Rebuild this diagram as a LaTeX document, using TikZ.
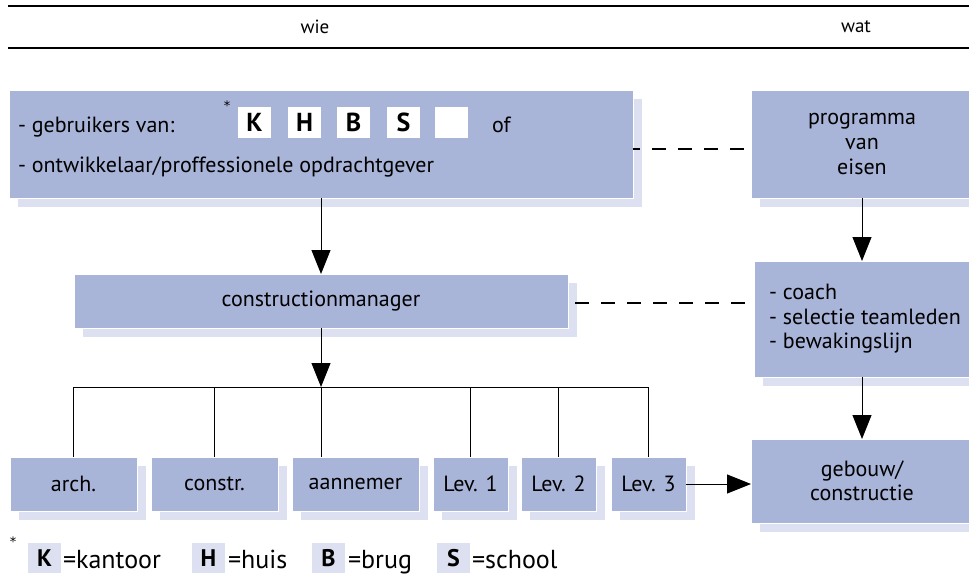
\documentclass[tikz,border=0pt]{standalone}
\usepackage{fontspec}
\setmainfont{PT Sans}
\newfontfamily\starfont{DejaVu Sans}
\usetikzlibrary{arrows.meta,shadows,calc}
\definecolor{boxfill}{HTML}{A8B4D8}
\definecolor{shadowfill}{HTML}{DDE0F0}
\begin{document}
\begin{tikzpicture}[x=1pt,y=-1pt,
  every node/.style={font=\fontsize{22}{24.5}\selectfont, inner sep=0pt, outer sep=0pt},
  head/.style={font=\fontsize{19}{24}\selectfont},
  box/.style={draw=white, line width=0.8pt, fill=boxfill,
    general shadow={fill=shadowfill, shadow xshift=9pt, shadow yshift=-9pt}},
  letterbox/.style={fill=white, minimum width=33pt, minimum height=31pt, font=\fontsize{26}{27}\selectfont\bfseries},
  legendbox/.style={fill=shadowfill, minimum width=33pt, minimum height=30pt, font=\fontsize{24}{25}\selectfont\bfseries},
  legendtext/.style={font=\fontsize{26}{28}\selectfont},
  star/.style={font=\starfont\fontsize{13}{13}\selectfont},
  arr/.style={-{Triangle[length=24pt,width=19pt]}, line width=1pt},
  conn/.style={line width=1pt},
  dashline/.style={line width=1.2pt, dash pattern=on 14pt off 12pt},
  rule/.style={line width=1.8pt}]
\useasboundingbox (0,0) rectangle (969,575);

% header
\draw[rule] (8,6) -- (969,6);
\draw[rule] (8,48) -- (969,48);
\node[head] (wie) at (315,27) {wie};
\node[head] (wat) at (856,27) {wat};

% top boxes
\node[box, minimum width=624pt, minimum height=108pt] (A) at (321,144) {};
\node[anchor=base west] (gebr) at (18,132) {- gebruikers van:};
\node[anchor=base west] (ontw) at (18,172) {- ontwikkelaar/proffessionele opdrachtgever};
\node[star, anchor=base] (st1) at (227,111) {*};
\node[letterbox] (lk) at (254.5,122.5) {K};
\node[letterbox] (lh) at (304.5,122.5) {H};
\node[letterbox] (lb) at (353.5,122.5) {B};
\node[letterbox] (ls) at (403.5,122.5) {S};
\node[letterbox] (lx) at (451.5,122.5) {};
\node[anchor=base west] (of) at (492,132) {of};

\node[box, minimum width=222pt, minimum height=108pt, align=center] (B) at (862,144) {programma\\van\\eisen};

% middle
\node[box, minimum width=494pt, minimum height=54pt] (cm) at (321,301) {constructionmanager};
\node[box, minimum width=222pt, minimum height=116pt, align=left] (coach) at (865,319) {- coach\\- selectie teamleden\\- bewakingslijn};

% bottom row
\node[box, minimum width=127pt, minimum height=54pt] (arch) at (73.5,484) {arch.};
\node[box, minimum width=127pt, minimum height=54pt] (constr) at (214.5,484) {constr.};
\node[box, minimum width=127pt, minimum height=54pt] (aann) at (355.5,484) {aannemer};
\node[box, minimum width=75pt, minimum height=54pt] (lev1) at (470.5,484) {Lev. 1};
\node[box, minimum width=75pt, minimum height=54pt] (lev2) at (558.5,484) {Lev. 2};
\node[box, minimum width=75pt, minimum height=54pt] (lev3) at (648.5,484) {Lev. 3};
\node[box, minimum width=222pt, minimum height=84pt, align=center] (geb) at (862,481) {gebouw/\\constructie};

% connectors
\coordinate (bus) at (321,387);
\draw[arr] (A) -- (cm);
\draw[arr] (cm) -- (bus);
\draw[conn] (arch.north) -- (arch.north |- bus) -- (lev3.north |- bus) -- (lev3.north);
\draw[conn] (constr.north) -- (constr.north |- bus);
\draw[conn] (bus) -- (bus |- aann.north);
\draw[conn] (lev1.north) -- (lev1.north |- bus);
\draw[conn] (lev2.north) -- (lev2.north |- bus);
\draw[arr] (B) -- (B |- coach.north);
\draw[arr] (B |- coach.south) -- (geb);
\draw[arr] (lev3.east) -- (lev3.east -| geb.west);
\draw[dashline, dash phase=7pt] ($(A.east)+(0,5)$) -- ($(B.west)+(0,5)$);
\draw[dashline, dash phase=19pt] ($(cm.east)+(0,2)$) -- ($(coach.west |- cm.east)+(0,2)$);

% legend
\node[star, anchor=base] (st2) at (13,546) {*};
\node[legendbox] (gk) at (44.5,558) {K};
\node[legendtext, anchor=base west] (tk) at (63,568) {=kantoor};
\node[legendbox] (gh) at (208.5,558) {H};
\node[legendtext, anchor=base west] (th) at (228,568) {=huis};
\node[legendbox] (gb) at (328.5,558) {B};
\node[legendtext, anchor=base west] (tb) at (348,568) {=brug};
\node[legendbox] (gs) at (453.5,558) {S};
\node[legendtext, anchor=base west] (ts) at (472,568) {=school};
\end{tikzpicture}
\end{document}
